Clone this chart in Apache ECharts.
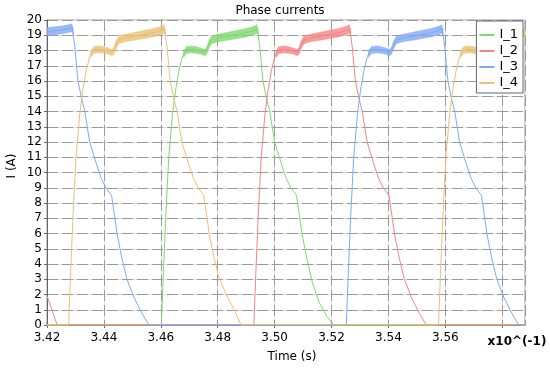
<!DOCTYPE html>
<html><head><meta charset="utf-8">
<script src="https://cdn.jsdelivr.net/npm/echarts@6/dist/echarts.min.js"></script>
<style>html,body{margin:0;padding:0;background:#fff}#c{width:550px;height:370px}</style>
</head><body><div id="c"></div>
<script>
// ---------- data ----------
const seriesNames = ['I_1', 'I_2', 'I_3', 'I_4'];
const yTicks = [0, 20, 1];            // min, max, step
const xTicks = [3.42, 3.588, 0.02];   // min, max, step
const xLabelLast = 3.56;              // last tick that carries a label

// I_1 (green)
const i1_t = [3.4200, 3.4602, 3.4609, 3.4617, 3.4628, 3.4641, 3.4652, 3.4664, 3.4676, 3.4688, 3.4708, 3.4725, 3.4743, 3.4754, 3.4761, 3.4768, 3.4778, 3.4799, 3.4849, 3.4902, 3.4930, 3.4939, 3.4948, 3.4959, 3.4971, 3.4983, 3.5000, 3.5023, 3.5041, 3.5057, 3.5077, 3.5087, 3.5097, 3.5113, 3.5131, 3.5156, 3.5184, 3.5208, 3.5880];
const i1_v = [0, 0, 3.4, 7.0, 11.0, 13.8, 15.4, 16.7, 17.6, 18.05, 18.07, 18.03, 17.95, 17.85, 17.97, 18.35, 18.7, 18.81, 18.98, 19.17, 19.32, 19.45, 18.2, 16.0, 14.9, 14.0, 12.0, 10.6, 9.6, 9.0, 8.5, 7.2, 5.9, 4.4, 2.9, 1.5, 0.55, 0, 0];
const i1_band_t  = [3.4680, 3.4690, 3.4708, 3.4725, 3.4743, 3.4754, 3.4761, 3.4768, 3.4778, 3.4799, 3.4849, 3.4902, 3.4930, 3.4937, 3.4942];
const i1_band_lo = [17.55, 17.8, 17.85, 17.82, 17.75, 17.65, 17.75, 18.1, 18.45, 18.57, 18.72, 18.9, 19.05, 19.15, 19.0];
const i1_band_hi = [17.95, 18.25, 18.3, 18.25, 18.15, 18.05, 18.2, 18.6, 18.95, 19.05, 19.25, 19.45, 19.6, 19.7, 19.4];

// I_2 (red)
const i2_t = [3.4200, 3.4236, 3.4927, 3.4934, 3.4942, 3.4953, 3.4966, 3.4977, 3.4989, 3.5001, 3.5013, 3.5033, 3.5050, 3.5068, 3.5079, 3.5086, 3.5093, 3.5103, 3.5124, 3.5174, 3.5227, 3.5255, 3.5264, 3.5273, 3.5284, 3.5296, 3.5308, 3.5325, 3.5348, 3.5366, 3.5382, 3.5402, 3.5412, 3.5422, 3.5438, 3.5456, 3.5481, 3.5509, 3.5533, 3.5880];
const i2_v = [1.9, 0, 0, 3.4, 7.0, 11.0, 13.8, 15.4, 16.7, 17.6, 18.05, 18.07, 18.03, 17.95, 17.85, 17.97, 18.35, 18.7, 18.81, 18.98, 19.17, 19.32, 19.45, 18.2, 16.0, 14.9, 14.0, 12.0, 10.6, 9.6, 9.0, 8.5, 7.2, 5.9, 4.4, 3.0, 1.8, 0.75, 0, 0];
const i2_band_t  = [3.5005, 3.5015, 3.5033, 3.5050, 3.5068, 3.5079, 3.5086, 3.5093, 3.5103, 3.5124, 3.5174, 3.5227, 3.5255, 3.5262, 3.5267];
const i2_band_lo = [17.55, 17.8, 17.85, 17.82, 17.75, 17.65, 17.75, 18.1, 18.45, 18.57, 18.72, 18.9, 19.05, 19.15, 19.0];
const i2_band_hi = [17.95, 18.25, 18.3, 18.25, 18.15, 18.05, 18.2, 18.6, 18.95, 19.05, 19.25, 19.45, 19.6, 19.7, 19.4];

// I_3 (blue)
const i3_t = [3.4200, 3.4252, 3.4280, 3.4289, 3.4298, 3.4309, 3.4321, 3.4333, 3.4350, 3.4373, 3.4391, 3.4407, 3.4427, 3.4437, 3.4447, 3.4463, 3.4481, 3.4506, 3.4534, 3.4558, 3.5252, 3.5259, 3.5267, 3.5278, 3.5291, 3.5302, 3.5314, 3.5326, 3.5338, 3.5358, 3.5375, 3.5393, 3.5404, 3.5411, 3.5418, 3.5428, 3.5449, 3.5499, 3.5552, 3.5580, 3.5589, 3.5598, 3.5609, 3.5621, 3.5633, 3.5650, 3.5673, 3.5691, 3.5707, 3.5727, 3.5737, 3.5747, 3.5763, 3.5781, 3.5806, 3.5834, 3.5858, 3.5880];
const i3_v = [19.2, 19.35, 19.45, 19.5, 18.2, 16.0, 14.9, 14.0, 12.0, 10.6, 9.6, 9.0, 8.5, 7.2, 5.9, 4.4, 3.0, 1.8, 0.75, 0, 0, 3.4, 7.0, 11.0, 13.8, 15.4, 16.7, 17.6, 18.05, 18.07, 18.03, 17.95, 17.85, 17.97, 18.35, 18.7, 18.81, 18.98, 19.17, 19.32, 19.45, 18.2, 16.0, 14.9, 14.0, 12.0, 10.6, 9.6, 9.0, 8.5, 7.2, 5.9, 4.4, 3.0, 1.8, 0.75, 0, 0];
const i3a_band_t  = [3.4200, 3.4252, 3.4280, 3.4287, 3.4292];
const i3a_band_lo = [18.95, 19.1, 19.2, 19.25, 19.05];
const i3a_band_hi = [19.5, 19.6, 19.7, 19.75, 19.45];
const i3b_band_t  = [3.5330, 3.5340, 3.5358, 3.5375, 3.5393, 3.5404, 3.5411, 3.5418, 3.5428, 3.5449, 3.5499, 3.5552, 3.5580, 3.5587, 3.5592];
const i3b_band_lo = [17.55, 17.8, 17.85, 17.82, 17.75, 17.65, 17.75, 18.1, 18.45, 18.57, 18.72, 18.9, 19.05, 19.15, 19.0];
const i3b_band_hi = [17.95, 18.25, 18.3, 18.25, 18.15, 18.05, 18.2, 18.6, 18.95, 19.05, 19.25, 19.45, 19.6, 19.7, 19.4];

// I_4 (orange)
const i4_t = [3.4200, 3.4276, 3.4283, 3.4291, 3.4302, 3.4315, 3.4326, 3.4338, 3.4350, 3.4362, 3.4382, 3.4399, 3.4417, 3.4428, 3.4435, 3.4442, 3.4452, 3.4473, 3.4523, 3.4576, 3.4604, 3.4613, 3.4622, 3.4633, 3.4645, 3.4657, 3.4674, 3.4697, 3.4715, 3.4731, 3.4751, 3.4761, 3.4771, 3.4787, 3.4805, 3.4830, 3.4858, 3.4882, 3.5576, 3.5583, 3.5591, 3.5602, 3.5615, 3.5626, 3.5638, 3.5650, 3.5662, 3.5682, 3.5699, 3.5717, 3.5728, 3.5735, 3.5742, 3.5752, 3.5773, 3.5823, 3.5876, 3.5880];
const i4_v = [0, 0, 3.4, 7.0, 11.0, 13.8, 15.4, 16.7, 17.6, 18.05, 18.07, 18.03, 17.95, 17.85, 17.97, 18.35, 18.7, 18.81, 18.98, 19.17, 19.32, 19.45, 18.2, 16.0, 14.9, 14.0, 12.0, 10.6, 9.6, 9.0, 8.5, 7.2, 5.9, 4.4, 3.1, 2.0, 1.0, 0, 0, 3.4, 7.0, 11.0, 13.8, 15.4, 16.7, 17.6, 18.05, 18.07, 18.03, 17.95, 17.85, 17.97, 18.35, 18.7, 18.81, 18.98, 19.17, 19.19];
const i4a_band_t  = [3.4354, 3.4364, 3.4382, 3.4399, 3.4417, 3.4428, 3.4435, 3.4442, 3.4452, 3.4473, 3.4523, 3.4576, 3.4604, 3.4611, 3.4616];
const i4a_band_lo = [17.55, 17.8, 17.85, 17.82, 17.75, 17.65, 17.75, 18.1, 18.45, 18.57, 18.72, 18.9, 19.05, 19.15, 19.0];
const i4a_band_hi = [17.95, 18.25, 18.3, 18.25, 18.15, 18.05, 18.2, 18.6, 18.95, 19.05, 19.25, 19.45, 19.6, 19.7, 19.4];
const i4b_band_t  = [3.5654, 3.5664, 3.5682, 3.5699, 3.5717, 3.5728, 3.5735, 3.5742, 3.5752, 3.5773, 3.5823, 3.5876, 3.5880];
const i4b_band_lo = [17.55, 17.8, 17.85, 17.82, 17.75, 17.65, 17.75, 18.1, 18.45, 18.57, 18.72, 18.9, 18.92];
const i4b_band_hi = [17.95, 18.25, 18.3, 18.25, 18.15, 18.05, 18.2, 18.6, 18.95, 19.05, 19.25, 19.45, 19.47];

// ---------- build ----------
const FONT = 'DejaVu Sans';
const colors = ['#7fd870', '#f58585', '#80a9f4', '#e9c177'];
const traces = [
  { t: i1_t, v: i1_v, bands: [[i1_band_t, i1_band_lo, i1_band_hi]] },
  { t: i2_t, v: i2_v, bands: [[i2_band_t, i2_band_lo, i2_band_hi]] },
  { t: i3_t, v: i3_v, bands: [[i3a_band_t, i3a_band_lo, i3a_band_hi], [i3b_band_t, i3b_band_lo, i3b_band_hi]] },
  { t: i4_t, v: i4_v, bands: [[i4a_band_t, i4a_band_lo, i4a_band_hi], [i4b_band_t, i4b_band_lo, i4b_band_hi]] }
];

const series = [];
traces.forEach((tr, idx) => {
  const col = colors[idx];
  const bl = tr.bands;
  series.push({
    type: 'custom',
    name: seriesNames[idx] + ' ripple',
    silent: true,
    data: bl.map(b => [b[0][0], b[1][0]]),
    renderItem: (params, api) => {
      const b = bl[params.dataIndex];
      const pts = [];
      for (let k = 0; k < b[0].length; k++) pts.push(api.coord([b[0][k], b[2][k]]));
      for (let k = b[0].length - 1; k >= 0; k--) pts.push(api.coord([b[0][k], b[1][k]]));
      return { type: 'polygon', shape: { points: pts }, style: { fill: col, opacity: 0.8, stroke: col, lineWidth: 0.6 } };
    },
    z: 2
  });
  series.push({
    type: 'line',
    name: seriesNames[idx],
    data: tr.t.map((t, k) => [t, tr.v[k]]),
    symbol: 'none',
    lineStyle: { width: 1, color: col },
    itemStyle: { color: col },
    clip: false,
    z: 2
  });
});

const isTick = v => Math.abs(v / xTicks[2] - Math.round(v / xTicks[2])) < 1e-6 && v <= xLabelLast + 1e-9;

const chart = echarts.init(document.getElementById('c'), null, { renderer: 'canvas' });
chart.setOption({
  animation: false,
  backgroundColor: '#fff',
  grid: { left: 47, right: 25, top: 20, bottom: 45, show: true, borderColor: '#999', borderWidth: 1 },
  xAxis: [
    {
      type: 'value', min: xTicks[0], max: xTicks[1], interval: xTicks[2], position: 'bottom', z: 1, offset: 1,
      axisLine: { show: true, lineStyle: { color: '#666', width: 1 } },
      axisTick: { show: true, length: 3, lineStyle: { color: '#666' } },
      axisLabel: { fontFamily: FONT, fontSize: 12, color: '#000', margin: 6, showMaxLabel: false,
        formatter: v => isTick(v) ? v.toFixed(2) : '' },
      splitLine: { show: true, lineStyle: { color: '#9a9a9a', width: 1, type: [11, 4] } }
    },
    {
      type: 'value', min: xTicks[0], max: xTicks[1], interval: xTicks[2], position: 'top', z: 0,
      axisLine: { show: false }, axisTick: { show: false }, axisLabel: { show: false },
      splitLine: { show: true, lineStyle: { color: '#e2e2e2', width: 1 } }
    }
  ],
  yAxis: [
    {
      type: 'value', min: yTicks[0], max: yTicks[1], interval: yTicks[2], position: 'left', z: 1,
      axisLine: { show: true, lineStyle: { color: '#666', width: 1 } },
      axisTick: { show: true, length: 3, lineStyle: { color: '#666' } },
      axisLabel: { fontFamily: FONT, fontSize: 12, color: '#000', margin: 5 },
      splitLine: { show: true, lineStyle: { color: '#9a9a9a', width: 1, type: [11, 4] } }
    },
    {
      type: 'value', min: yTicks[0], max: yTicks[1], interval: yTicks[2], position: 'right', z: 0,
      axisLine: { show: false }, axisTick: { show: false }, axisLabel: { show: false },
      splitLine: { show: true, lineStyle: { color: '#e2e2e2', width: 1 } }
    }
  ],
  legend: {
    data: seriesNames, orient: 'vertical', right: 27, top: 21,
    icon: 'rect', itemWidth: 15, itemHeight: 2, itemGap: 2,
    padding: [7, 5, 3, 3], backgroundColor: '#fff', borderColor: '#666', borderWidth: 1,
    textStyle: { fontFamily: FONT, fontSize: 13, color: '#000', lineHeight: 14 }
  },
  graphic: [
    { type: 'text', x: 280, y: 11, style: { text: 'Phase currents', fontFamily: FONT, fontSize: 12, fill: '#000', align: 'center', verticalAlign: 'middle', textAlign: 'center', textVerticalAlign: 'middle' } },
    { type: 'text', x: 292, y: 357, style: { text: 'Time (s)', fontFamily: FONT, fontSize: 12, fill: '#000', align: 'center', verticalAlign: 'middle', textAlign: 'center', textVerticalAlign: 'middle' } },
    { type: 'text', x: 517, y: 342, style: { text: 'x10^(-1)', fontFamily: FONT, fontSize: 12, fontWeight: 'bold', fill: '#000', align: 'center', verticalAlign: 'middle', textAlign: 'center', textVerticalAlign: 'middle' } },
    { type: 'text', x: 12, y: 166, rotation: Math.PI / 2, style: { text: 'I (A)', fontFamily: FONT, fontSize: 12, fill: '#000', align: 'center', verticalAlign: 'middle', textAlign: 'center', textVerticalAlign: 'middle' } }
  ],
  series: series
});
</script>
</body></html>
